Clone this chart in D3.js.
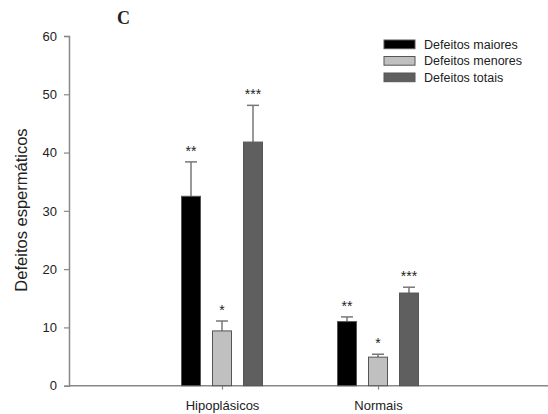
<!DOCTYPE html>
<html>
<head>
<meta charset="utf-8">
<script src="https://cdn.jsdelivr.net/npm/d3@7"></script>
<style>
  body { margin: 0; background: #fff; }
  text { fill: #222; }
</style>
</head>
<body>
<svg id="chart" width="548" height="414"></svg>
<script>
// Chart data
const categories = ['Hipoplásicos', 'Normais'];
const series = ['Defeitos maiores', 'Defeitos menores', 'Defeitos totais'];
const means = [
  [32.5, 9.4, 41.8],   // Hipoplásicos
  [11.0, 4.9, 15.9]    // Normais
];
const errors = [
  [5.9, 1.7, 6.3],
  [0.8, 0.5, 1.0]
];
const stars = [
  ['**', '*', '***'],
  ['**', '*', '***']
];
const yTicks = [0, 10, 20, 30, 40, 50, 60];

const fills = ['#000000', '#c0c0c0', '#5f5f5f'];
const sans = '"Liberation Sans", Arial, sans-serif';

const svg = d3.select('#chart');
const margin = { left: 69, top: 36 };
const width = 548;
const plotBottom = 385.7;

const y = d3.scaleLinear().domain([0, 60]).range([plotBottom, 36]);

// category centres
const x = d3.scalePoint()
  .domain(categories)
  .range([66, 534])
  .padding(1);

const barW = 19;
const barStep = 31;

// y axis
const yAxis = svg.append('g')
  .attr('transform', `translate(${margin.left},0)`)
  .call(d3.axisLeft(y).tickValues(yTicks).tickSize(5).tickPadding(7));
yAxis.select('.domain').attr('stroke', '#888').attr('stroke-width', 1.5);
yAxis.selectAll('.tick line').attr('stroke', '#888').attr('stroke-width', 1.2);
yAxis.selectAll('.tick text').attr('font-size', 13).attr('fill', '#222')
  .attr('font-family', sans);

// x axis
const xAxis = svg.append('g')
  .attr('transform', `translate(0,${plotBottom})`)
  .call(d3.axisBottom(x).tickSize(4).tickPadding(11).tickSizeOuter(0));
xAxis.select('.domain').attr('d', `M${margin.left},0H${width}`)
  .attr('stroke', '#888').attr('stroke-width', 1.5);
xAxis.selectAll('.tick line').attr('stroke', '#888').attr('stroke-width', 1.2);
xAxis.selectAll('.tick text').attr('font-size', 13).attr('fill', '#222')
  .attr('font-family', sans);

// bars
const rows = [];
categories.forEach((c, ci) => {
  series.forEach((s, si) => {
    rows.push({ cat: c, si: si, mean: means[ci][si], err: errors[ci][si], star: stars[ci][si] });
  });
});
const cx = d => x(d.cat) + (d.si - 1) * barStep;

const g = svg.append('g');

// error bars (upward only)
g.selectAll('line.err')
  .data(rows)
  .enter().append('line')
  .attr('x1', cx).attr('x2', cx)
  .attr('y1', d => y(d.mean)).attr('y2', d => y(d.mean + d.err))
  .attr('stroke', '#777').attr('stroke-width', 1.5);
g.selectAll('line.cap')
  .data(rows)
  .enter().append('line')
  .attr('x1', d => cx(d) - 6).attr('x2', d => cx(d) + 6)
  .attr('y1', d => y(d.mean + d.err)).attr('y2', d => y(d.mean + d.err))
  .attr('stroke', '#777').attr('stroke-width', 1.5);

g.selectAll('rect.bar')
  .data(rows)
  .enter().append('rect')
  .attr('x', d => cx(d) - barW / 2)
  .attr('width', barW)
  .attr('y', d => y(d.mean))
  .attr('height', d => plotBottom - y(d.mean))
  .attr('fill', d => fills[d.si])
  .attr('stroke', '#555')
  .attr('stroke-width', 1);

// significance stars
g.selectAll('text.star')
  .data(rows)
  .enter().append('text')
  .attr('x', cx)
  .attr('y', d => y(d.mean + d.err) - 6)
  .attr('text-anchor', 'middle')
  .attr('font-family', sans)
  .attr('font-size', 14)
  .attr('fill', '#222')
  .text(d => d.star);

// legend
const legend = svg.append('g').attr('transform', 'translate(384,40)');
series.forEach((s, i) => {
  const row = legend.append('g').attr('transform', `translate(0,${i * 16.5})`);
  row.append('rect')
    .attr('width', 31).attr('height', 8.7)
    .attr('fill', fills[i]).attr('stroke', '#555').attr('stroke-width', 1);
  row.append('text')
    .attr('x', 40).attr('y', 8.7)
    .attr('font-family', sans)
    .attr('font-size', 12.5)
    .text(s);
});

// y label
svg.append('text')
  .attr('transform', 'translate(27,210) rotate(-90)')
  .attr('text-anchor', 'middle')
  .attr('font-family', sans)
  .attr('font-size', 16.5)
  .text('Defeitos espermáticos');

// panel letter
svg.append('text')
  .attr('x', 117).attr('y', 24)
  .attr('font-family', '"Liberation Serif", "Times New Roman", serif')
  .attr('font-weight', 'bold')
  .attr('font-size', 18)
  .attr('fill', '#111')
  .text('C');
</script>
</body>
</html>
